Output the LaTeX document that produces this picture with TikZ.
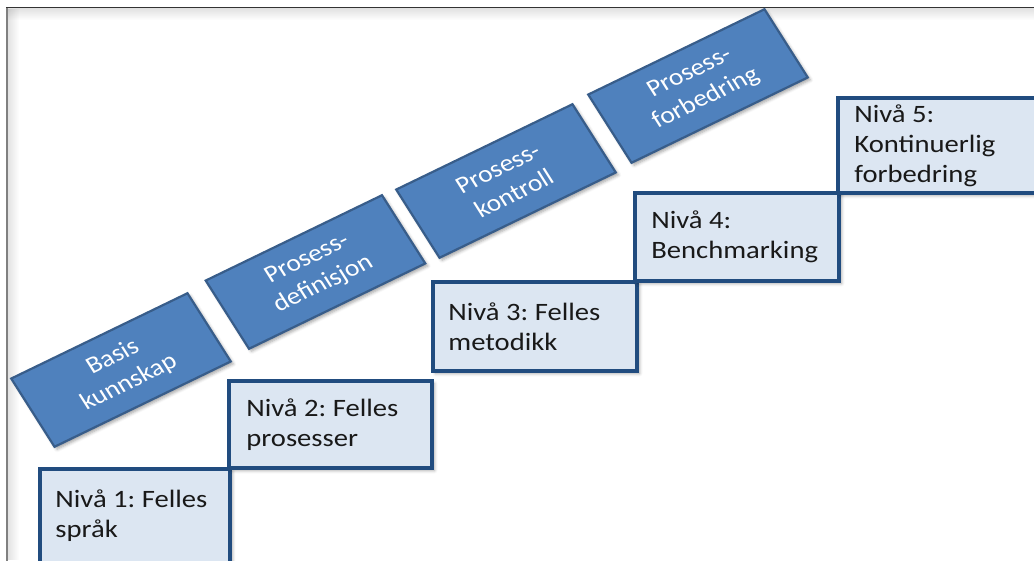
\documentclass[tikz,border=0pt]{standalone}
\usepackage{fontspec}
\setmainfont{Carlito}
\frenchspacing
\usetikzlibrary{shadows.blur}

\definecolor{stepfill}{HTML}{DCE6F2}
\definecolor{stepline}{HTML}{214C7F}
\definecolor{phasefill}{HTML}{4F81BD}
\definecolor{phaseline}{HTML}{385D8A}

\tikzset{
  wide/.style={xscale=1.145, transform shape},
  softshadow/.style={blur shadow={shadow xshift=2.5pt, shadow yshift=-2.5pt,
      shadow blur radius=3pt, shadow opacity=35}},
  level/.style={wide, draw=stepline, line width=3.2pt, fill=stepfill,
      inner sep=0pt, softshadow},
  leveltext/.style={wide, anchor=west, align=left, inner sep=0pt,
      font=\fontsize{25}{30}\selectfont, text=black!90},
  phase/.style={xscale=1.145, rotate=29, transform shape, draw=phaseline,
      line width=2.2pt, fill=phasefill, minimum width=176pt, minimum height=78pt,
      inner sep=0pt, align=center, text=white,
      font=\fontsize{24}{29}\selectfont, softshadow},
}

\begin{document}
\begin{tikzpicture}[x=1pt, y=-1pt]
\useasboundingbox (0,0) rectangle (1034,560);
\clip (0,0) rectangle (1034,560);

% page frame with a soft inner shadow
\foreach \i [evaluate=\i as \op using 0.12*(1-\i/12)] in {0,...,11} {
  \fill[black, opacity=\op] (7,8+\i) rectangle (1034,9+\i);
  \fill[black, opacity=\op] (7+\i,9) rectangle (8+\i,560);
}
\draw[black!50, line width=2pt] (6.5,570) -- (6.5,8);
\draw[black!80, line width=1pt] (6,7.5) -- (1040,7.5);

% staircase of maturity levels
\node[level, minimum width=165.9pt, minimum height=94pt] (b1) at (135,516) {};
\node[level, minimum width=177.3pt, minimum height=87pt] (b2) at (330.5,424.5) {};
\node[level, minimum width=178.2pt, minimum height=89pt] (b3) at (535,326.5) {};
\node[level, minimum width=178.2pt, minimum height=88pt] (b4) at (737,237) {};
\node[level, minimum width=177.3pt, minimum height=95pt] (b5) at (939.5,145.5) {};

\node[leveltext] (t1) at ([xshift=17pt]b1.west) {Nivå 1: Felles\\språk};
\node[leveltext] (t2) at ([xshift=19pt]b2.west) {Nivå 2: Felles\\prosesser};
\node[leveltext] (t3) at ([xshift=17pt]b3.west) {Nivå 3: Felles\\metodikk};
\node[leveltext] (t4) at ([xshift=18pt]b4.west) {Nivå 4:\\Benchmarking};
\node[leveltext] (t5) at ([xshift=18pt]b5.west) {Nivå 5:\\Kontinuerlig\\forbedring};

% tilted phase banners
\node[phase] (p1) at (121,370) {Basis\\kunnskap};
\node[phase] (p2) at (315.5,272) {Prosess-\\definisjon};
\node[phase] (p3) at (506,181) {Prosess-\\kontroll};
\node[phase] (p4) at (698,86) {Prosess-\\forbedring};
\end{tikzpicture}
\end{document}
